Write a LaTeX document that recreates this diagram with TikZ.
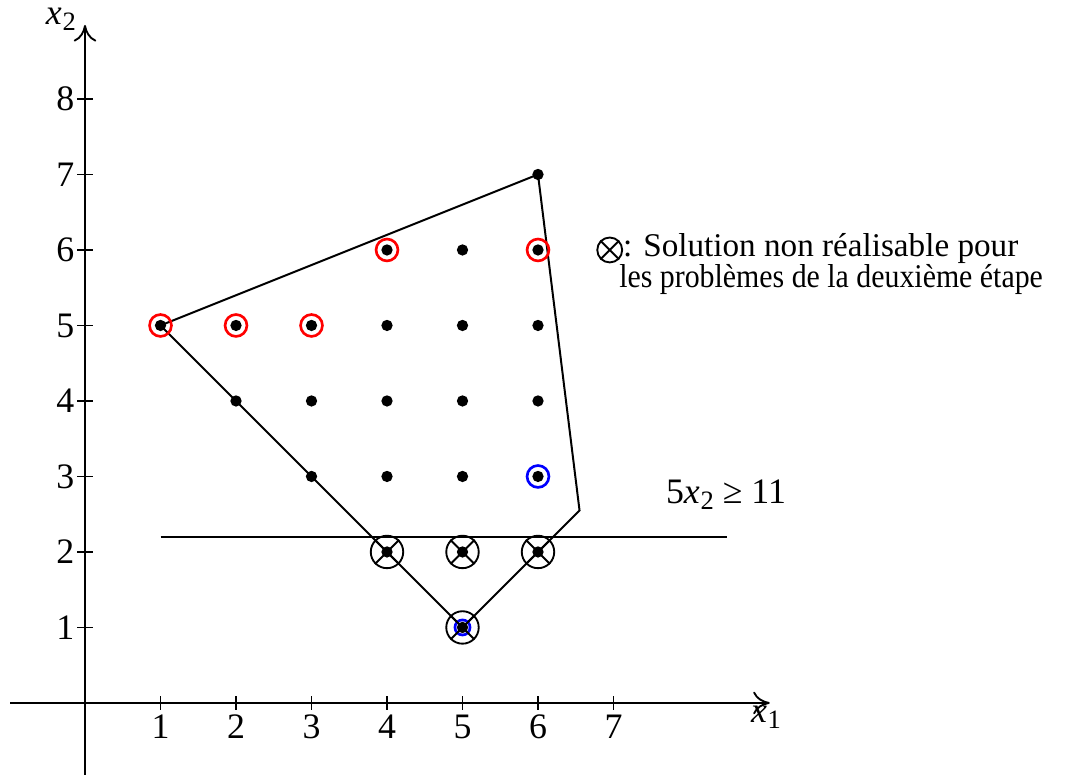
\documentclass[tikz,border=0pt]{standalone}
\usepackage{fontspec}
\setmainfont{Liberation Serif}
\usetikzlibrary{arrows.meta}
\newcommand{\vx}[1]{\textit{x}\kern0.02em\raisebox{-0.35ex}{\fontsize{10}{12}\selectfont #1}}
\begin{document}
\begin{tikzpicture}[x=1cm,y=1cm,
  every node/.style={font=\fontsize{13.5}{16}\selectfont},
  dot/.style={circle,fill=black,inner sep=0pt,minimum size=0.15cm},
  redc/.style={circle,draw=red,line width=1pt,inner sep=0pt,minimum size=0.29cm},
  bluec/.style={circle,draw=blue,line width=1pt,inner sep=0pt,minimum size=#1},
  axis/.style={line width=0.7pt,-{To[length=2.2mm,width=3mm]}},
  edge/.style={line width=0.75pt},
  tick/.style={line width=0.7pt},
  legtext/.style={anchor=base west,inner sep=0pt,font=\fontsize{12.5}{15}\selectfont}]
\useasboundingbox (-1.126,-0.993) rectangle (13.232,9.311);
% axes
\coordinate (xs) at (-0.993,0);
\coordinate (xe) at (9.07,0);
\coordinate (ys) at (0,-0.954);
\coordinate (ye) at (0,8.98);
\draw[axis] (xs) -- (xe);
\draw[axis] (ys) -- (ye);
\node (lx1) at (9.02,-0.19) {\vx{1}};
\node (lx2) at (-0.32,9.06) {\vx{2}};
\foreach \i in {1,...,7}{
  \draw[tick] (\i,-0.09) -- (\i,0.09);
  \node[anchor=north,inner sep=1pt] (tx\i) at (\i,-0.12) {\i};
}
\foreach \i in {1,...,8}{
  \draw[tick] (-0.1,\i) -- (0.1,\i);
  \node[anchor=east,inner sep=1pt] (ty\i) at (-0.1,\i) {\i};
}
% polygon
\coordinate (A) at (1,5);
\coordinate (B) at (6,7);
\coordinate (C) at (6.55,2.55);
\coordinate (D) at (5,1);
\draw[edge] (A) -- (B) -- (C) -- (D) -- cycle;
% cut line
\coordinate (L1) at (1,2.2);
\coordinate (L2) at (8.5,2.2);
\draw[edge] (L1) -- (L2);
\node (cut) at (8.49,2.76) {5\vx{2} ≥ 11};
% dots
\foreach \x/\y in {6/7, 4/6,5/6,6/6, 1/5,2/5,3/5,4/5,5/5,6/5, 2/4,3/4,4/4,5/4,6/4, 3/3,4/3,5/3,6/3, 4/2,5/2,6/2, 5/1}{
  \node[dot] (d\x\y) at (\x,\y) {};
}
% red circles
\foreach \x/\y in {1/5,2/5,3/5,4/6,6/6}{
  \node[redc] (r\x\y) at (\x,\y) {};
}
% blue circles
\node[bluec=0.29cm] (b63) at (6,3) {};
\node[bluec=0.2cm] (b51) at (5,1) {};
% crossed circles
\foreach \x/\y in {4/2,5/2,6/2,5/1}{
  \node[circle,draw,line width=0.7pt,inner sep=0pt,minimum size=0.43cm] (c\x\y) at (\x,\y) {};
  \draw[line width=0.7pt] (c\x\y.north west) -- (c\x\y.south east);
  \draw[line width=0.7pt] (c\x\y.north east) -- (c\x\y.south west);
}
% legend
\node[circle,draw,line width=0.7pt,inner sep=0pt,minimum size=0.33cm] (leg) at (6.95,6.0) {};
\draw[line width=0.7pt] (leg.north west) -- (leg.south east);
\draw[line width=0.7pt] (leg.north east) -- (leg.south west);
\node[legtext] (legt1) at (7.12,5.915) {: Solution non réalisable pour};
\node[legtext] (legt2) at (7.07,5.50) {\scalebox{0.9}[1]{les problèmes de la deuxième étape}};
\end{tikzpicture}
\end{document}
